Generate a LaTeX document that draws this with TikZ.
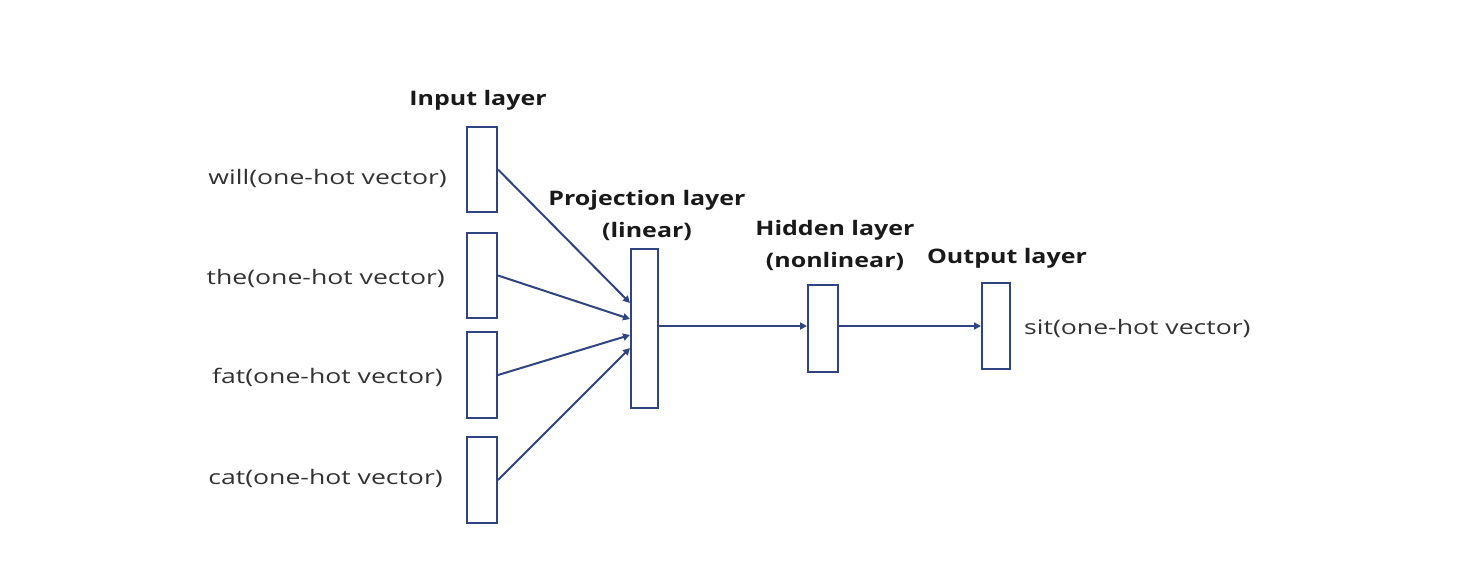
\documentclass[tikz,border=0pt]{standalone}
\usepackage{fontspec}
\setmainfont{Open Sans}
\newfontfamily\regf[FakeStretch=1.33]{Open Sans}
\newfontfamily\headf[FakeStretch=1.25]{Open Sans}
\usetikzlibrary{arrows.meta}
\definecolor{navy}{RGB}{47,68,128}
\definecolor{txt}{RGB}{50,50,50}
\begin{document}
\begin{tikzpicture}[x=1pt,y=-1pt,
  layerbox/.style={draw=navy,line width=2pt,fill=white,inner sep=0pt,minimum width=#1},
  conn/.style={draw=navy,line width=2pt,-{Triangle[length=7pt,width=7pt]}},
  wordlbl/.style={text=txt,font=\regf\fontsize{20}{24}\selectfont,inner sep=0pt},
  headlbl/.style={text=black!90,font=\headf\fontsize{20}{32}\selectfont\bfseries,inner sep=0pt,align=center}]
\useasboundingbox (0,0) rectangle (1460,566);
% input boxes
\node[layerbox=30pt,minimum height=85pt] (in1) at (482,169.5) {};
\node[layerbox=30pt,minimum height=85pt] (in2) at (482,275.5) {};
\node[layerbox=30pt,minimum height=86pt] (in3) at (482,375) {};
\node[layerbox=30pt,minimum height=86pt] (in4) at (482,480) {};
\node[layerbox=27pt,minimum height=159pt] (proj) at (644.5,328.5) {};
\node[layerbox=30pt,minimum height=87pt] (hid) at (823,328.5) {};
\node[layerbox=28pt,minimum height=86pt] (out) at (996,326) {};
% labels
\node[wordlbl,anchor=east] (l1) at (447,178) {will(one-hot vector)};
\node[wordlbl,anchor=east] (l2) at (445,278) {the(one-hot vector)};
\node[wordlbl,anchor=east] (l3) at (443,377) {fat(one-hot vector)};
\node[wordlbl,anchor=east] (l4) at (443,478) {cat(one-hot vector)};
\node[wordlbl,anchor=west] (l5) at (1024,328) {sit(one-hot vector)};
\node[headlbl] (h1) at (478,100) {Input layer};
\node[headlbl] (h2) at (647,215) {Projection layer\\(linear)};
\node[headlbl] (h3) at (835,245) {Hidden layer\\(nonlinear)};
\node[headlbl] (h4) at (1007,258) {Output layer};
% connectors
\coordinate (p1) at ([yshift=25.5pt]proj.west);
\coordinate (p2) at ([yshift=9.5pt]proj.west);
\coordinate (p3) at ([yshift=-6.5pt]proj.west);
\coordinate (p4) at ([yshift=-19.5pt]proj.west);
\coordinate (hidin) at ([yshift=2.5pt]hid.west);
\coordinate (hidout) at ([yshift=2.5pt]hid.east);
\draw[conn] (in1.east) -- (p1);
\draw[conn] (in2.east) -- (p2);
\draw[conn] (in3.east) -- (p3);
\draw[conn] (in4.east) -- (p4);
\draw[conn] (proj.east |- hidin) -- (hidin);
\draw[conn] (hidout) -- (out.west |- hidout);
\end{tikzpicture}
\end{document}
